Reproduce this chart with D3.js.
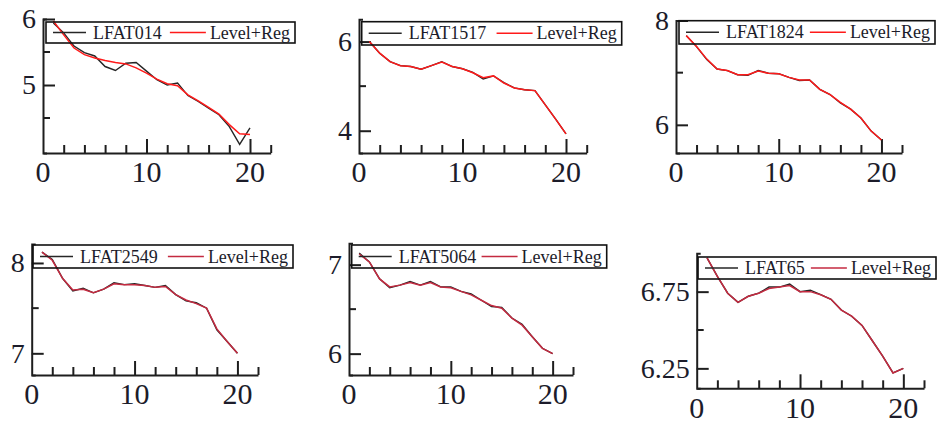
<!DOCTYPE html>
<html>
<head>
<meta charset="utf-8">
<script src="https://cdn.jsdelivr.net/npm/d3@7"></script>
<style>
	body{margin:0;background:#fff;}
	svg{display:block;}
</style>
</head>
<body>
<div id="chart"></div>
<script>

//DATA
var steps = d3.range(1, 21);
var seriesNames = ["LFAT014", "LFAT1517", "LFAT1824", "LFAT2549", "LFAT5064", "LFAT65"];
var fitName = "Level+Reg";

var lfat014  = [5.94,5.79,5.59,5.49,5.44,5.28,5.22,5.33,5.34,5.21,5.08,5.00,5.03,4.84,4.75,4.65,4.55,4.37,4.10,4.35];
var fit014   = [5.97,5.76,5.56,5.46,5.41,5.37,5.34,5.32,5.26,5.18,5.09,5.02,4.99,4.85,4.76,4.66,4.56,4.40,4.26,4.25];
var lfat1517 = [6.00,5.74,5.55,5.46,5.44,5.38,5.46,5.55,5.44,5.39,5.31,5.16,5.23,5.08,4.96,4.92,4.90,4.58,4.26,3.93];
var fit1517  = [6.00,5.74,5.55,5.46,5.44,5.38,5.46,5.54,5.44,5.39,5.30,5.19,5.23,5.07,4.96,4.92,4.90,4.58,4.26,3.93];
var lfat1824 = [7.71,7.50,7.25,7.07,7.04,6.96,6.95,7.04,6.99,6.98,6.91,6.85,6.86,6.68,6.58,6.42,6.30,6.13,5.88,5.71];
var fit1824  = [7.71,7.50,7.26,7.07,7.04,6.96,6.96,7.03,6.99,6.98,6.91,6.86,6.86,6.68,6.58,6.43,6.30,6.13,5.88,5.71];
var lfat2549 = [8.12,8.04,7.83,7.69,7.72,7.67,7.71,7.78,7.76,7.77,7.75,7.73,7.75,7.65,7.58,7.56,7.50,7.26,7.13,7.00];
var fit2549  = [8.12,8.03,7.83,7.70,7.71,7.67,7.71,7.77,7.76,7.76,7.75,7.73,7.74,7.65,7.59,7.55,7.50,7.27,7.13,7.00];
var lfat5064 = [7.13,7.03,6.84,6.74,6.77,6.81,6.77,6.81,6.75,6.75,6.70,6.67,6.60,6.53,6.52,6.40,6.33,6.19,6.06,6.00];
var fit5064  = [7.12,7.03,6.84,6.75,6.77,6.80,6.77,6.80,6.75,6.74,6.70,6.66,6.60,6.54,6.51,6.40,6.32,6.19,6.06,6.00];
var lfat65   = [6.97,6.85,6.74,6.68,6.72,6.74,6.78,6.78,6.80,6.75,6.76,6.73,6.70,6.63,6.59,6.53,6.43,6.33,6.22,6.25];
var fit65    = [6.97,6.85,6.74,6.68,6.72,6.74,6.77,6.78,6.79,6.75,6.75,6.73,6.70,6.63,6.59,6.53,6.43,6.33,6.22,6.25];

var observed = [lfat014, lfat1517, lfat1824, lfat2549, lfat5064, lfat65];
var fitted = [fit014, fit1517, fit1824, fit2549, fit5064, fit65];

//TICKS
var xDomain = [0, 22];
var xTicks = d3.range(2, 23, 2);
var xLabels = [0, 10, 20];
var yDomains = [[3.97, 6.0], [3.5, 6.5], [5.46, 8.0], [6.76, 8.21], [5.76, 7.24], [6.12, 7.0]];
var yMajor = [[5, 6], [4, 6], [6, 8], [7, 8], [6, 7], [6.25, 6.75]];
var yMinor = [[4.5, 5.5], [5], [7], [7.5], [6.5], [6.5]];

//LAYOUT (pixels)
var frames = [
	{left: 43, right: 270.7, top: 19, bottom: 153, legend: [46, 22, 295, 43]},
	{left: 359, right: 586.7, top: 19.3, bottom: 153, legend: [361.7, 21.7, 621.7, 45]},
	{left: 676, right: 902, top: 20.5, bottom: 153, legend: [679, 20.7, 935, 44]},
	{left: 31.7, right: 258, top: 244, bottom: 375, legend: [33, 245, 293, 268]},
	{left: 349, right: 573, top: 243.3, bottom: 375, legend: [351.7, 245, 606.7, 268]},
	{left: 696.7, right: 924, top: 253.3, bottom: 388.3, legend: [698, 257, 936, 279]}
];
var FONT = "'Liberation Serif'";
var FIT_COLORS = ["#ff1a1a", "#ff1a1a", "#ff1a1a", "#c42a40", "#c42a40", "#c42a40"];
var OBS_COLOR = "#262626";
var AXIS_COLOR = "#1e1e1e";
var LABEL_COLOR = "#1c1c2a";

var svg = d3.select("#chart").append("svg")
	.attr("width", 941)
	.attr("height", 428);

frames.forEach(function(f, i){
	var x = d3.scaleLinear().domain(xDomain).range([f.left, f.right]);
	var y = d3.scaleLinear().domain(yDomains[i]).range([f.bottom, f.top]);
	var g = svg.append("g");

	//Y AXIS (ticks point inward)
	var yAxis = g.append("g")
		.attr("transform", "translate(" + f.left + ",0)")
		.call(d3.axisLeft(y)
			.tickValues(yMajor[i])
			.tickSizeInner(-12)
			.tickSizeOuter(-4)
			.tickPadding(7)
			.tickFormat(d3.format("")));
	yAxis.append("g").selectAll("line")
		.data(yMinor[i])
		.enter().append("line")
		.attr("x1", 0).attr("x2", 7)
		.attr("y1", function(d){ return y(d); })
		.attr("y2", function(d){ return y(d); });

	//X AXIS
	var xAxis = g.append("g")
		.attr("transform", "translate(0," + f.bottom + ")")
		.call(d3.axisBottom(x)
			.tickValues(xTicks)
			.tickSizeInner(-8)
			.tickSizeOuter(0)
			.tickFormat(""));
	xAxis.selectAll(".tick line")
		.attr("y2", function(d){ return d % 10 == 0 ? -14 : -8; });
	xAxis.selectAll(".tick text").remove();
	xAxis.append("g").selectAll("text")
		.data(xLabels)
		.enter().append("text")
		.attr("x", function(d){ return x(d); })
		.attr("y", 8)
		.attr("dy", "0.71em")
		.attr("text-anchor", "middle")
		.attr("font-size", 30)
		.text(function(d){ return d; });

	g.selectAll(".domain, .tick line, line")
		.attr("stroke", AXIS_COLOR)
		.attr("stroke-width", 2);
	yAxis.selectAll(".tick text")
		.attr("font-size", 28);

	//LINES
	var line = d3.line()
		.x(function(d, k){ return x(steps[k]); })
		.y(function(d){ return y(d); });

	g.append("path")
		.datum(observed[i])
		.attr("d", line)
		.attr("fill", "none")
		.attr("stroke", OBS_COLOR)
		.attr("stroke-width", 1.4);
	g.append("path")
		.datum(fitted[i])
		.attr("d", line)
		.attr("fill", "none")
		.attr("stroke", FIT_COLORS[i])
		.attr("stroke-width", 1.5);

	//LEGEND
	var b = f.legend;
	var lg = g.append("g");
	lg.append("rect")
		.attr("x", b[0]).attr("y", b[1])
		.attr("width", b[2] - b[0]).attr("height", b[3] - b[1])
		.attr("fill", "none")
		.attr("stroke", "#111")
		.attr("stroke-width", 1.6);
	var mid = (b[1] + b[3]) / 2;
	lg.append("line")
		.attr("x1", b[0] + 7).attr("x2", b[0] + 40)
		.attr("y1", mid).attr("y2", mid)
		.attr("stroke", OBS_COLOR).attr("stroke-width", 1.5);
	lg.append("text")
		.attr("x", b[0] + 47).attr("y", mid + 6)
		.attr("font-size", 18)
		.text(seriesNames[i]);
	var fitText = lg.append("text")
		.attr("x", b[2] - 5).attr("y", mid + 6)
		.attr("text-anchor", "end")
		.attr("font-size", 18)
		.text(fitName);

	g.selectAll("text")
		.style("font-family", FONT)
		.attr("fill", LABEL_COLOR);

	var fw = fitText.node().getComputedTextLength();
	lg.append("line")
		.attr("x1", b[2] - 5 - fw - 40).attr("x2", b[2] - 5 - fw - 4)
		.attr("y1", mid).attr("y2", mid)
		.attr("stroke", FIT_COLORS[i]).attr("stroke-width", 1.5);
});

</script>
</body>
</html>
